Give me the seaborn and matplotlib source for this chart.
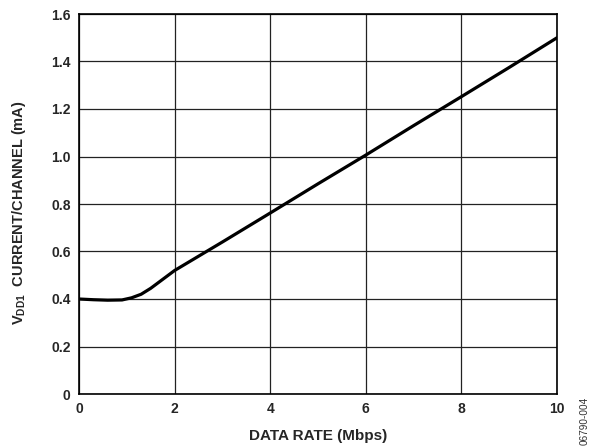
import numpy as np
import pandas as pd
import matplotlib
matplotlib.use("Agg")
import matplotlib.pyplot as plt
import seaborn as sns
from matplotlib.ticker import FuncFormatter

# data
data_rate = [0.0, 0.3, 0.6, 0.9, 1.1, 1.3, 1.5, 2.0, 3.0, 4.0, 5.0, 6.0, 7.0, 8.0, 9.0, 10.0]
current = [0.400, 0.397, 0.395, 0.396, 0.405, 0.420, 0.445, 0.520, 0.640, 0.762,
           0.885, 1.006, 1.130, 1.252, 1.375, 1.500]

sns.set_style("white")
plt.rcParams["font.family"] = ["Liberation Sans", "DejaVu Sans"]
plt.rcParams.update({
    "mathtext.fontset": "custom",
    "mathtext.rm": "Liberation Sans",
    "mathtext.bf": "Liberation Sans:bold",
})

df = pd.DataFrame({"rate": data_rate, "current": current})

fig = plt.figure(figsize=(5.92, 4.47), dpi=100)
ax = fig.add_axes([79 / 592, 1 - 394 / 447, (557 - 79) / 592, (394 - 14) / 447])

sns.lineplot(data=df, x="rate", y="current", ax=ax, color="black", linewidth=2.3)

ax.set_xlim(0, 10)
ax.set_ylim(0, 1.6)
ax.set_xticks(np.arange(0, 11, 2))
ax.set_yticks(np.arange(0, 1.61, 0.2))
ax.xaxis.set_major_formatter(FuncFormatter(lambda v, p: "0" if v == 0 else f"{v:g}"))
ax.yaxis.set_major_formatter(FuncFormatter(lambda v, p: "0" if abs(v) < 1e-9 else f"{v:.1f}"))
ax.grid(True, color="#222222", linewidth=0.9)
ax.tick_params(length=0, labelsize=10, pad=6)
for lab in ax.get_xticklabels() + ax.get_yticklabels():
    lab.set_fontweight("bold")
for s in ax.spines.values():
    s.set_color("black")
    s.set_linewidth(1.2)

ax.set_xlabel("DATA RATE (Mbps)", fontsize=11, fontweight="bold", labelpad=9)
ax.set_ylabel(r"$\mathbf{V_{DD1}}$  CURRENT/CHANNEL (mA)", fontsize=10.5, fontweight="bold")
ax.yaxis.set_label_coords(-0.107, 0.476)

fig.text(585 / 592, 1 - 421 / 447, "06790-004", rotation=90, fontsize=7.2,
         color="#333333", ha="center", va="center")

fig.savefig("out.png", dpi=100)
